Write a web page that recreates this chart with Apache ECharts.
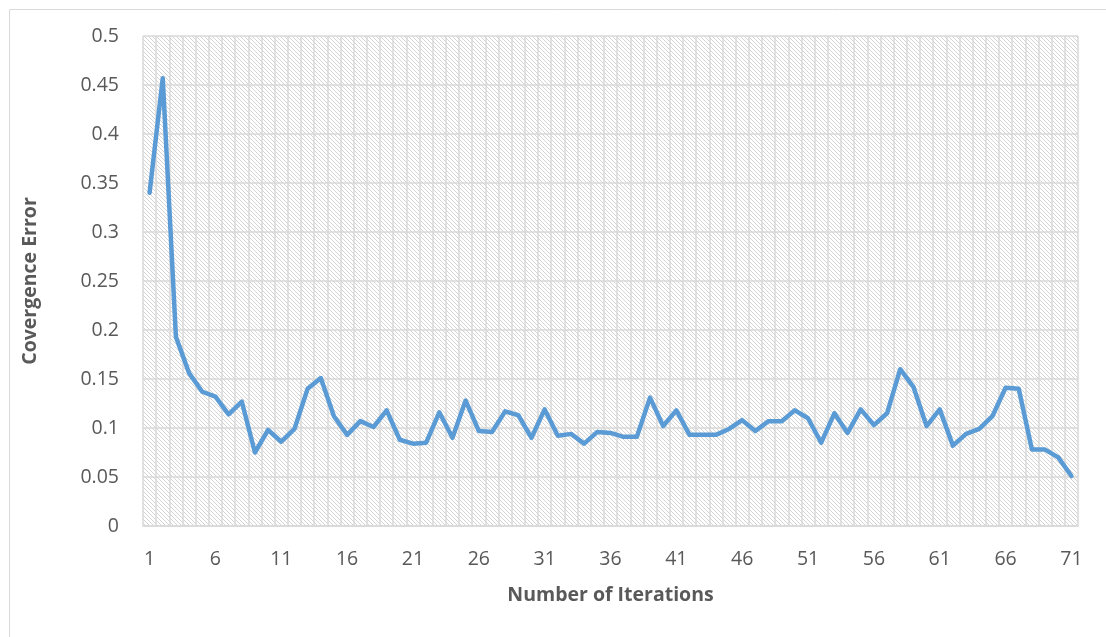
<!DOCTYPE html>
<html>
<head>
<meta charset="utf-8">
<script src="https://cdn.jsdelivr.net/npm/echarts@6/dist/echarts.min.js"></script>
<style>
  html, body { margin: 0; padding: 0; background: #ffffff; }
  #chart { width: 1106px; height: 637px; }
</style>
</head>
<body>
<div id="chart"></div>
<script>
// Convergence error recorded at each iteration
const iterations = Array.from({ length: 71 }, (_, i) => String(i + 1));
const convergenceError = [
  0.340, 0.457, 0.193, 0.156, 0.137, 0.132, 0.114, 0.127, 0.075, 0.098,
  0.086, 0.099, 0.140, 0.151, 0.112, 0.093, 0.107, 0.101, 0.118, 0.088,
  0.084, 0.085, 0.116, 0.090, 0.128, 0.097, 0.096, 0.117, 0.113, 0.090,
  0.119, 0.092, 0.094, 0.084, 0.096, 0.095, 0.091, 0.091, 0.131, 0.102,
  0.118, 0.093, 0.093, 0.093, 0.099, 0.108, 0.097, 0.107, 0.107, 0.118,
  0.110, 0.085, 0.115, 0.095, 0.119, 0.103, 0.115, 0.160, 0.142, 0.102,
  0.119, 0.082, 0.094, 0.099, 0.112, 0.141, 0.140, 0.078, 0.078, 0.070,
  0.051
];
const yTicks = { min: 0, max: 0.5, interval: 0.05 };

// Light downward-diagonal hatch used as the plot background
function hatchPattern() {
  const c = document.createElement('canvas');
  c.width = 4; c.height = 4;
  const ctx = c.getContext('2d');
  ctx.fillStyle = '#ffffff';
  ctx.fillRect(0, 0, 4, 4);
  ctx.fillStyle = '#d4d4d4';
  for (let i = 0; i < 4; i++) ctx.fillRect(i, i, 1, 1);
  return c;
}

const textColor = '#595959';
const gridColor = '#d9d9d9';
const fontFamily = '"Open Sans", "Noto Sans", sans-serif';

const chart = echarts.init(document.getElementById('chart'), null, { renderer: 'canvas' });
chart.setOption({
  animation: false,
  backgroundColor: '#ffffff',
  graphic: [{
    type: 'rect',
    left: 7, top: 7,
    shape: { width: 1120, height: 660 },
    style: { fill: 'none', stroke: '#d9d9d9', lineWidth: 1 },
    z: -10, silent: true
  }],
  grid: {
    left: 143, right: 28, top: 36, bottom: 111,
    show: true,
    backgroundColor: { image: hatchPattern(), repeat: 'repeat' },
    borderWidth: 0
  },
  xAxis: {
    type: 'category',
    data: iterations,
    boundaryGap: true,
    name: 'Number of Iterations',
    nameLocation: 'middle',
    nameGap: 59,
    nameTextStyle: { color: textColor, fontSize: 19.5, fontWeight: 'bold', fontFamily },
    axisLine: { lineStyle: { color: gridColor, width: 1.5 } },
    axisTick: { show: false },
    axisLabel: { interval: 4, color: textColor, fontSize: 19.5, fontFamily, margin: 23 },
    splitLine: { show: true, interval: 0, lineStyle: { color: gridColor, width: 1.5 } }
  },
  yAxis: {
    type: 'value',
    min: yTicks.min, max: yTicks.max, interval: yTicks.interval,
    name: 'Covergence Error',
    nameLocation: 'middle',
    nameGap: 103,
    nameTextStyle: { color: textColor, fontSize: 19.5, fontWeight: 'bold', fontFamily },
    axisLine: { show: false },
    axisTick: { show: false },
    axisLabel: { color: textColor, fontSize: 19.5, fontFamily, margin: 24 },
    splitLine: { show: true, lineStyle: { color: gridColor, width: 1.5 } }
  },
  series: [{
    type: 'line',
    data: convergenceError,
    showSymbol: false,
    symbol: 'none',
    smooth: false,
    lineStyle: { color: '#5b9bd5', width: 4.5, join: 'round', cap: 'round' },
    z: 5
  }]
});
</script>
</body>
</html>
